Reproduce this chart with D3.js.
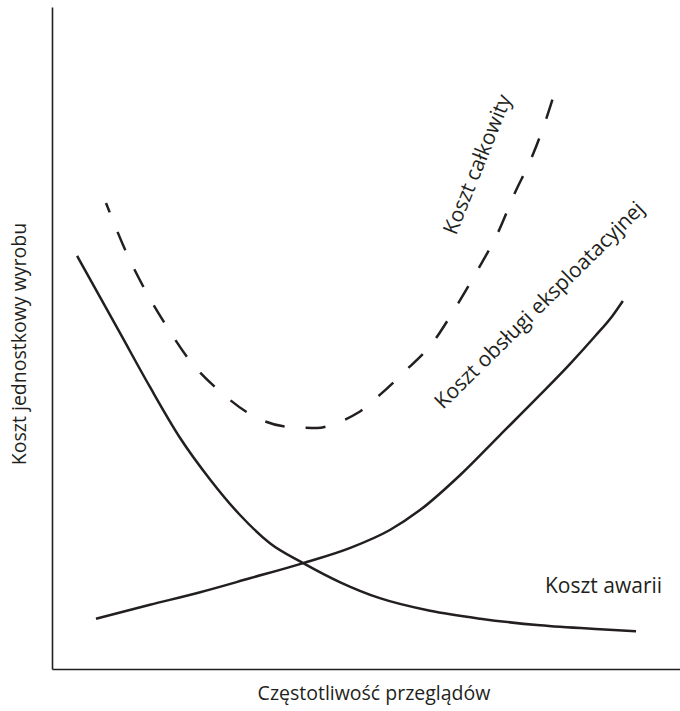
<!DOCTYPE html>
<html>
<head>
<meta charset="utf-8">
<script src="https://cdn.jsdelivr.net/npm/d3@7"></script>
<style>
  html, body { margin: 0; padding: 0; background: #fff; }
  svg { display: block; }
  text { font-family: "Open Sans", "Noto Sans", sans-serif; fill: #231f20; }
</style>
</head>
<body>
<svg id="chart" width="680" height="711"></svg>
<script>
// Data (abstract units, 0-10 on both axes)
const kosztAwariiX = [0.40, 1.08, 1.56, 2.04, 2.52, 2.99, 3.47, 4.00, 4.59, 5.22, 6.02, 6.82, 7.77, 8.73, 9.30];
const kosztAwariiY = [6.24, 5.08, 4.26, 3.49, 2.86, 2.33, 1.90, 1.60, 1.31, 1.07, 0.88, 0.76, 0.66, 0.60, 0.57];

const kosztObslugiX = [0.70, 1.56, 2.36, 3.15, 4.00, 4.75, 5.38, 5.86, 6.50, 7.13, 7.77, 8.25, 8.65, 8.92, 9.09];
const kosztObslugiY = [0.76, 0.97, 1.16, 1.37, 1.60, 1.83, 2.10, 2.40, 2.93, 3.53, 4.14, 4.61, 5.03, 5.33, 5.56];

const kosztCalkowityX = [0.86, 1.18, 1.48, 1.83, 2.21, 2.69, 3.23, 3.73, 4.22, 4.54, 4.87, 5.22, 5.59, 6.07, 6.42, 6.78, 7.10, 7.37, 7.64, 7.88, 8.04];
const kosztCalkowityY = [7.04, 6.30, 5.73, 5.17, 4.64, 4.18, 3.81, 3.66, 3.64, 3.72, 3.87, 4.14, 4.47, 4.94, 5.45, 6.03, 6.59, 7.19, 7.73, 8.34, 8.82];

const axisTitleX = "Częstotliwość przeglądów";
const axisTitleY = "Koszt jednostkowy wyrobu";
const labelAwarii = "Koszt awarii";
const labelObslugi = "Koszt obsługi eksploatacyjnej";
const labelCalkowity = "Koszt całkowity";

const svg = d3.select("#chart");
const x = d3.scaleLinear().domain([0, 10]).range([52, 680]);
const y = d3.scaleLinear().domain([0, 10]).range([669, 7]);

const ink = "#231f20";

// axes (no ticks)
svg.append("g").attr("transform", `translate(0,${y(0)})`)
  .call(d3.axisBottom(x).tickValues([]).tickSizeOuter(0))
  .call(g => g.select(".domain").attr("stroke", ink).attr("stroke-width", 1.6));
svg.append("g").attr("transform", `translate(${x(0)},0)`)
  .call(d3.axisLeft(y).tickValues([]).tickSizeOuter(0))
  .call(g => g.select(".domain").attr("stroke", ink).attr("stroke-width", 1.6));

const line = d3.line().x(d => x(d[0])).y(d => y(d[1])).curve(d3.curveMonotoneX);

function series(xs, ys) { return xs.map((v, i) => [v, ys[i]]); }

svg.append("path").datum(series(kosztAwariiX, kosztAwariiY))
  .attr("d", line).attr("fill", "none").attr("stroke", ink).attr("stroke-width", 2.5);
svg.append("path").datum(series(kosztObslugiX, kosztObslugiY))
  .attr("d", line).attr("fill", "none").attr("stroke", ink).attr("stroke-width", 2.5);
svg.append("path").datum(series(kosztCalkowityX, kosztCalkowityY))
  .attr("d", line).attr("fill", "none").attr("stroke", ink).attr("stroke-width", 2.5)
  .attr("stroke-dasharray", "20,21").attr("stroke-dashoffset", 10);

// labels
svg.append("text").attr("x", 374).attr("y", 700).attr("text-anchor", "middle")
  .attr("font-size", 19.5).text(axisTitleX);
svg.append("text").attr("transform", "translate(26,344) rotate(-90)").attr("text-anchor", "middle")
  .attr("font-size", 19.5).text(axisTitleY);
svg.append("text").attr("x", 545).attr("y", 593).attr("font-size", 21).text(labelAwarii);
svg.append("text").attr("transform", "translate(456,236) rotate(-68)")
  .attr("font-size", 21).text(labelCalkowity);
svg.append("text").attr("transform", "translate(443,410) rotate(-44.6)")
  .attr("font-size", 21).text(labelObslugi);
</script>
</body>
</html>
